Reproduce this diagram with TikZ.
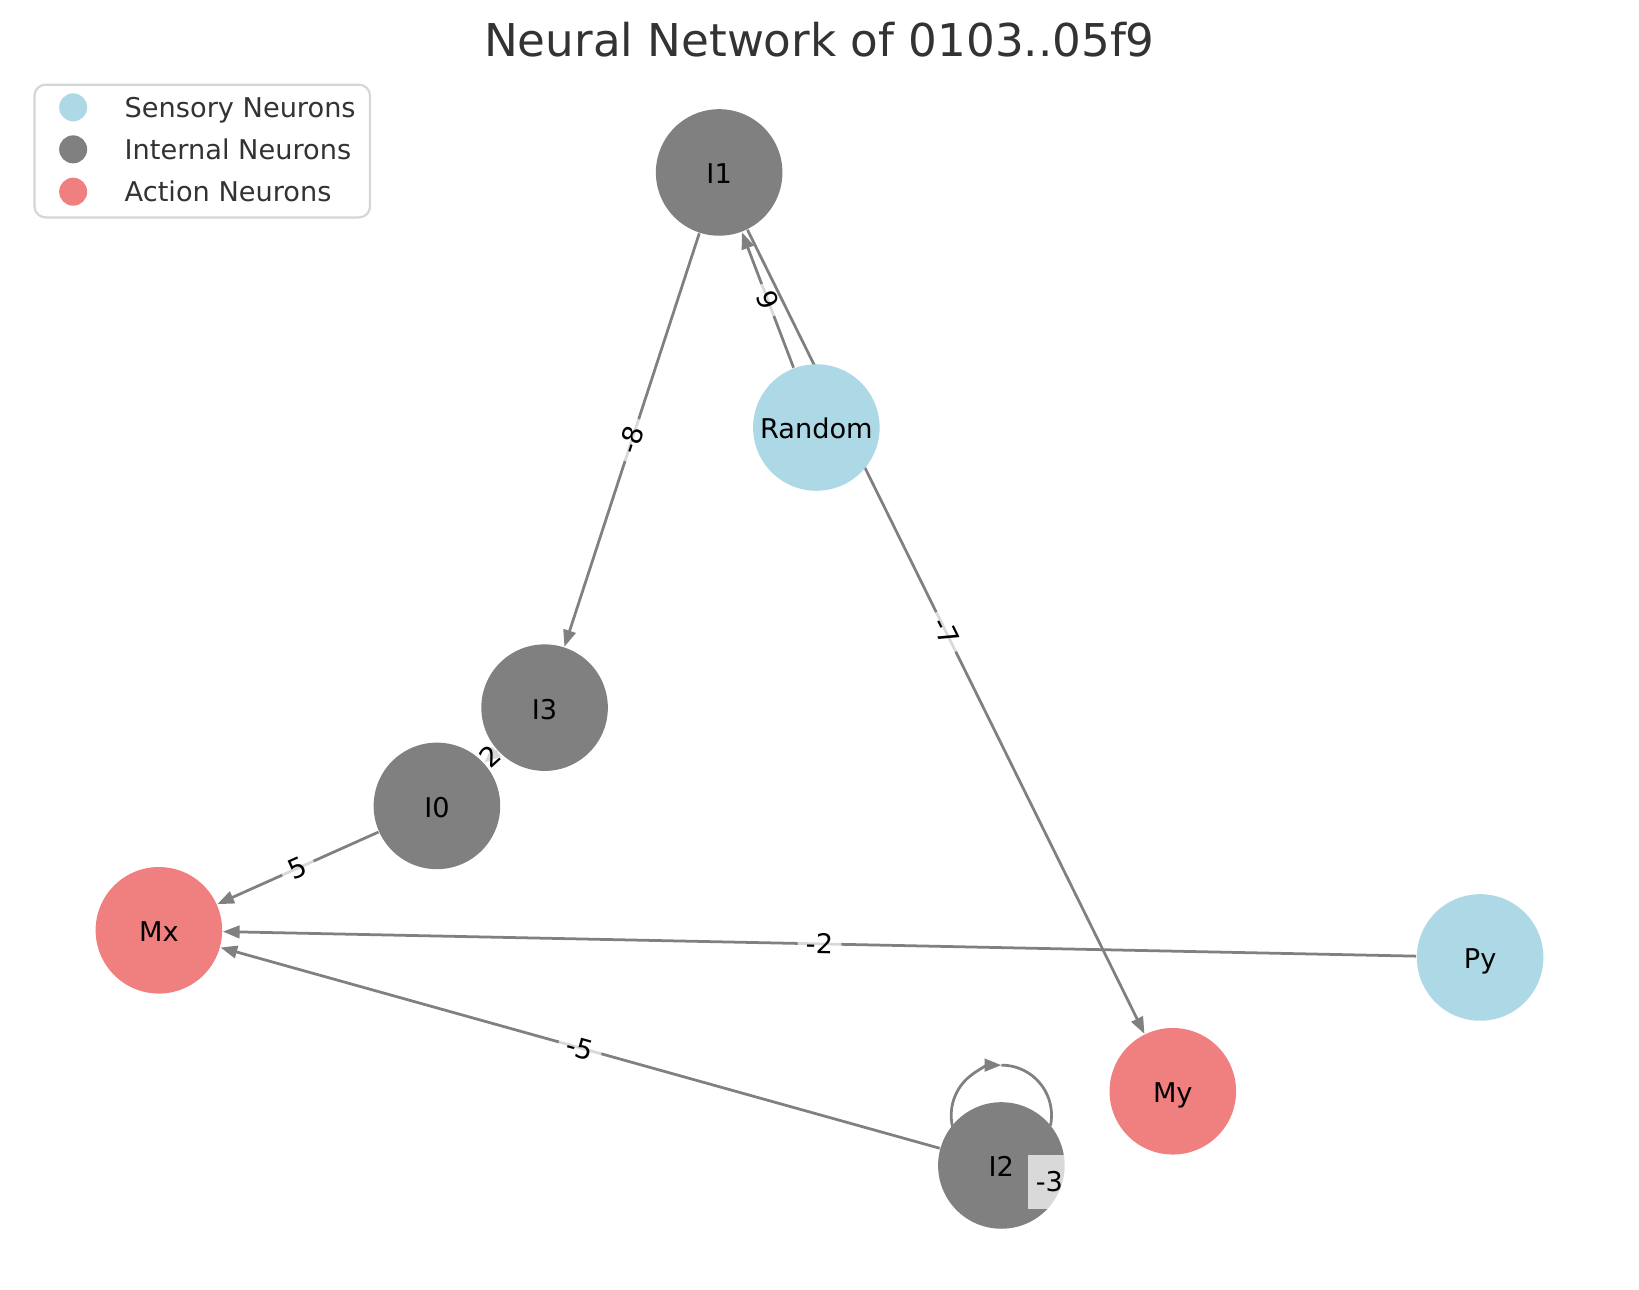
\documentclass[tikz,border=0pt]{standalone}
\usepackage{fontspec}
\setmainfont{DejaVu Sans}
\usepackage{xcolor}
\usepackage{tikz}
\usetikzlibrary{arrows.meta, backgrounds}
\definecolor{sensblue}{HTML}{ADD8E6}
\definecolor{intgray}{HTML}{808080}
\definecolor{actred}{HTML}{F08080}
\definecolor{edgegray}{HTML}{808080}
\definecolor{darktext}{HTML}{333333}
\definecolor{legendframe}{HTML}{D6D6D6}

\begin{document}
\begin{tikzpicture}[
  x=0.01cm, y=0.01cm,
  font=\fontsize{7.4}{9}\selectfont,
  neurona/.style={circle, fill=#1, draw=none, minimum size=1.21cm, inner sep=0pt, text=black, text height=0.62em, text depth=0pt},
  flecha/.style={-{Triangle[length=0.16cm, width=0.12cm]}, line width=0.75pt, edgegray},
  peso/.style={fill=white, fill opacity=0.7, text opacity=1, text=black, inner sep=0.08cm, text height=0.76em, text depth=0.24em},
  marca/.style={circle, fill=#1, minimum size=0.268cm, inner sep=0pt},
  leyenda/.style={anchor=base west, inner sep=0pt, text=darktext}
]
\useasboundingbox (0,0) rectangle (1568,-1234);
% Title
\node[text=darktext, font=\fontsize{12.3}{14}\selectfont] (titulo) at (784,-38) {Neural Network of 0103..05f9};
% Neurons
\node[neurona=intgray] (i1) at (688,-165) {I1};
\node[neurona=sensblue] (rand) at (781,-409) {Random};
\node[neurona=intgray] (i3) at (521,-677) {I3};
\node[neurona=intgray] (i0) at (418,-771) {I0};
\node[neurona=actred] (mx) at (152,-890) {Mx};
\node[neurona=sensblue] (py) at (1416,-916) {Py};
\node[neurona=actred] (my) at (1122,-1044) {My};
\node[neurona=intgray] (i2) at (958,-1115) {I2};
\coordinate (lazo) at (958,-1067);
% Connections
\begin{scope}[on background layer]
\draw[flecha] (rand) -- node[peso, sloped] {9} (i1);
\draw[flecha] (i1) -- node[peso, sloped] {-8} (i3);
\draw[flecha] (i1) -- node[peso, sloped] {-7} (my);
\draw[flecha] (i3) -- node[peso, sloped] {2} (i0);
\draw[flecha] (i0) -- node[peso, sloped] {5} (mx);
\draw[flecha] (py) -- node[peso, sloped] {-2} (mx);
\draw[flecha] (i2) -- node[peso, sloped] {-5} (mx);
\draw[flecha] (lazo) ++(193:48) arc[start angle=193, end angle=90, radius=48];
\draw[edgegray, line width=0.75pt] (lazo) ++(90:48) arc[start angle=90, end angle=-12, radius=48];
\end{scope}
\node[peso] (w3) at (1004,-1131) {-3};
% Legend
\draw[legendframe, line width=0.6pt, rounded corners=3pt, fill=white] (33,-81) rectangle (354,-208);
\node[marca=sensblue] (ms) at (70,-102.7) {};
\node[marca=intgray] (mi) at (70,-142.9) {};
\node[marca=actred] (ma) at (70,-183.4) {};
\node[leyenda] (ts) at (118.6,-112.2) {Sensory Neurons};
\node[leyenda] (ti) at (118.6,-152.8) {Internal Neurons};
\node[leyenda] (ta) at (118.6,-192.6) {Action Neurons};
\end{tikzpicture}
\end{document}
